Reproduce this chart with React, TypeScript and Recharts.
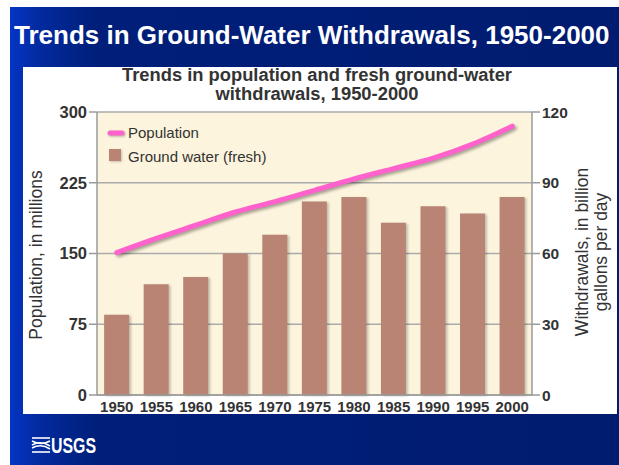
import {
  ComposedChart,
  Bar,
  Line,
  XAxis,
  YAxis,
  CartesianGrid,
} from "recharts";

const years = ["1950", "1955", "1960", "1965", "1970", "1975", "1980", "1985", "1990", "1995", "2000"];
// population, in millions (left axis)
const population = [151, 166, 180, 194, 205, 217, 229, 240, 251, 266, 285];
// fresh ground-water withdrawals, billion gallons per day (right axis)
const groundWater = [34, 47, 50, 60, 68, 82, 84, 73, 80, 77, 84];
const leftTicks = [0, 75, 150, 225, 300];
const rightTicks = [0, 30, 60, 90, 120];

const data = years.map((year, i) => ({
  year,
  population: population[i],
  groundWater: groundWater[i],
}));

const FONT = "'Liberation Sans', Arial, sans-serif";
const TEXT = "#333333";

export default function App() {
  return (
    <div
      style={{
        position: "absolute",
        left: 0,
        top: 0,
        width: 619,
        height: 465,
        background: "#ffffff",
        fontFamily: FONT,
        overflow: "hidden",
      }}
    >
      <style>{`
        .pop-line path { filter: drop-shadow(2px 2px 1.5px rgba(0,0,0,0.35)); }
        .gw-bars path { filter: drop-shadow(2px 1px 1px rgba(0,0,0,0.22)); }
      `}</style>
      {/* navy slide */}
      <div
        style={{
          position: "absolute",
          left: 10,
          top: 7,
          width: 609,
          height: 458,
          background:
            "linear-gradient(to right, #0534c4 0%, #022a9e 5%, #001f7a 14%, #001c70 100%)",
        }}
      />
      <div
        style={{
          position: "absolute",
          left: 14,
          top: 18,
          width: 600,
          color: "#ffffff",
          fontSize: 26,
          fontWeight: "bold",
          lineHeight: "34px",
          whiteSpace: "nowrap",
        }}
      >
        Trends in Ground-Water Withdrawals, 1950-2000
      </div>
      {/* white panel */}
      <div
        style={{
          position: "absolute",
          left: 23,
          top: 67,
          width: 594,
          height: 347,
          background: "#ffffff",
        }}
      />
      <div style={{ position: "absolute", left: 23, top: 67 }}>
        <ComposedChart
          width={594}
          height={347}
          data={data}
          margin={{ top: 45, right: 35, bottom: 0, left: 24 }}
          barCategoryGap="18%"
        >
          <CartesianGrid
            yAxisId="left"
            vertical={false}
            fill="#fcf4dc"
            stroke="#aaaaaa"
            strokeWidth={1.5}
          />
          <XAxis
            dataKey="year"
            height={19}
            tickLine={false}
            tickSize={4}
            stroke="#9a9a9a"
            strokeWidth={1.5}
            tick={{ fill: TEXT, fontSize: 15, fontWeight: "bold", fontFamily: FONT }}
          />
          <YAxis
            yAxisId="left"
            orientation="left"
            width={50}
            domain={[0, 300]}
            ticks={leftTicks}
            tickSize={8}
            stroke="#9a9a9a"
            strokeWidth={1.5}
            tick={{ fill: TEXT, fontSize: 16.5, fontWeight: "bold", fontFamily: FONT }}
          />
          <YAxis
            yAxisId="right"
            orientation="right"
            width={50}
            domain={[0, 120]}
            ticks={rightTicks}
            tickSize={8}
            stroke="#9a9a9a"
            strokeWidth={1.5}
            tick={{ fill: TEXT, fontSize: 15.5, fontWeight: "bold", fontFamily: FONT }}
          />
          <Bar
            yAxisId="right"
            dataKey="groundWater"
            fill="#b98474"
            className="gw-bars"
            isAnimationActive={false}
          />
          <Line
            yAxisId="left"
            dataKey="population"
            type="monotone"
            stroke="#ff62cc"
            strokeWidth={5}
            strokeLinecap="round"
            dot={false}
            activeDot={false}
            className="pop-line"
            isAnimationActive={false}
          />
        </ComposedChart>
      </div>
      {/* titles, axis labels, legend, logo */}
      <svg
        width={619}
        height={465}
        style={{ position: "absolute", left: 0, top: 0, pointerEvents: "none" }}
        fontFamily={FONT}
      >
        <text
          x={317}
          y={81}
          textAnchor="middle"
          fontSize={17.5}
          fontWeight="bold"
          fill={TEXT}
          textLength={390}
          lengthAdjust="spacingAndGlyphs"
        >
          Trends in population and fresh ground-water
        </text>
        <text
          x={317}
          y={100}
          textAnchor="middle"
          fontSize={17.5}
          fontWeight="bold"
          fill={TEXT}
          textLength={203}
          lengthAdjust="spacingAndGlyphs"
        >
          withdrawals, 1950-2000
        </text>
        <text
          x={0}
          y={0}
          transform="translate(42 255) rotate(-90)"
          textAnchor="middle"
          fontSize={17.5}
          fill={TEXT}
        >
          Population, in millions
        </text>
        <text
          x={0}
          y={0}
          transform="translate(588 252) rotate(-90)"
          textAnchor="middle"
          fontSize={17.5}
          fill={TEXT}
        >
          Withdrawals, in billion
        </text>
        <text
          x={0}
          y={0}
          transform="translate(607 252) rotate(-90)"
          textAnchor="middle"
          fontSize={17.5}
          fill={TEXT}
        >
          gallons per day
        </text>
        {/* legend */}
        <line
          x1={110}
          y1={133}
          x2={122}
          y2={133}
          stroke="#ff62cc"
          strokeWidth={5}
          strokeLinecap="round"
          style={{ filter: "drop-shadow(1px 1px 1px rgba(0,0,0,0.3))" }}
        />
        <text x={128} y={138} fontSize={15} fill={TEXT}>
          Population
        </text>
        <rect
          x={109}
          y={149}
          width={12}
          height={12}
          fill="#b98474"
          style={{ filter: "drop-shadow(1px 1px 1px rgba(0,0,0,0.2))" }}
        />
        <text x={128} y={162} fontSize={15} fill={TEXT}>
          Ground water (fresh)
        </text>
        {/* USGS mark */}
        <g stroke="#ffffff" strokeWidth={1.6} fill="none">
          <path d="M32 438 L50 438" />
          <path d="M32 441 Q41 446 50 441" />
          <path d="M32 445 Q41 440 50 446" />
          <path d="M32 448 Q41 443 50 449" />
          <path d="M32 452 L50 452" />
        </g>
        <text
          x={51}
          y={453}
          fill="#ffffff"
          fontSize={22}
          fontWeight="bold"
          textLength={45}
          lengthAdjust="spacingAndGlyphs"
        >
          USGS
        </text>
      </svg>
    </div>
  );
}
